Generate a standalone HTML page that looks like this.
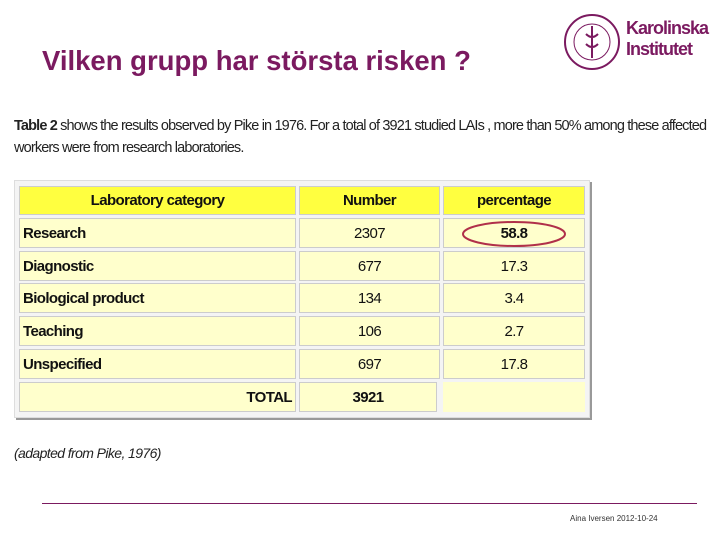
<!DOCTYPE html>
<html><head><meta charset="utf-8"><style>
body{margin:0;width:720px;height:540px;background:#fff;position:relative;overflow:hidden;font-family:"Liberation Sans",sans-serif}
.a{position:absolute}
.c{position:absolute;display:flex;align-items:center;font-size:15px;color:#111;letter-spacing:-0.6px;transform-origin:left center}
.hd{background:#ffff40;font-weight:bold;justify-content:center;border:1px solid #ccc;box-sizing:border-box}
.bd{background:#ffffcc;border:1px solid #ccc;box-sizing:border-box}
.n{justify-content:center}
.l{font-weight:bold;padding-left:3px}
</style></head><body>
<div class="a" style="left:42px;top:45px;font-size:27.5px;font-weight:bold;color:#7b1a60">Vilken grupp har största risken ?</div>
<div class="a" style="left:562px;top:12px;width:60px;height:60px">
<svg width="60" height="60"><circle cx="30" cy="30" r="27" fill="none" stroke="#7b1a60" stroke-width="2"/><circle cx="30" cy="30" r="18" fill="none" stroke="#7b1a60" stroke-width="1"/><path d="M30 14v32M24 22q6 6 12 0M24 32q6 6 12 0" stroke="#7b1a60" stroke-width="2" fill="none"/></svg></div>
<div class="a" style="left:626px;top:18px;font-size:18px;font-weight:bold;color:#7b1a60;line-height:21px;letter-spacing:-1px">Karolinska<br>Institutet</div>
<div class="a" style="left:14px;top:115px;font-size:14.5px;color:#222;line-height:22px;letter-spacing:-0.85px;width:720px"><b>Table 2</b> shows the results observed by Pike in 1976. For a total of 3921 studied LAIs , more than 50% among these affected<br>workers were from research laboratories.</div>
<div class="a" style="left:14px;top:180px;width:574px;height:236px;background:#f4f4f4;border:1px solid #ddd;box-shadow:2px 2px 0 #999"></div>
<div id="tbl"></div>
<svg class="a" style="left:460px;top:219px" width="110" height="30"><ellipse cx="54" cy="15" rx="51" ry="12" fill="none" stroke="#b0304a" stroke-width="2"/></svg>
<div class="a" style="left:14px;top:445px;font-size:14px;font-style:italic;color:#222;letter-spacing:-0.6px">(adapted from Pike, 1976)</div>
<div class="a" style="left:42px;top:503px;width:655px;height:1px;background:#7b1a60"></div>
<div class="a" style="left:570px;top:514px;font-size:8px;color:#333">Aina Iversen 2012-10-24</div>
<script>
const categories=["Research","Diagnostic","Biological product","Teaching","Unspecified"];
const numbers=["2307","677","134","106","697"];
const percentages=["58.8","17.3","3.4","2.7","17.8"];
const total="3921";
const cols=[[19,277],[299,141],[443,142]];
const tops=[218,251,283,316,349];
const t=document.getElementById('tbl');
function cell(x,w,y,h,txt,cls){const d=document.createElement('div');d.className='c '+cls;d.style.left=x+'px';d.style.top=y+'px';d.style.width=w+'px';d.style.height=h+'px';d.textContent=txt;t.appendChild(d);return d;}
const heads=["Laboratory category","Number","percentage"];
heads.forEach((h,i)=>{const d=cell(cols[i][0],cols[i][1],186,29,h,'hd');

});
categories.forEach((c,r)=>{const y=tops[r];
let d=cell(cols[0][0],cols[0][1],y,30,c,'bd l');


d=cell(cols[1][0],cols[1][1],y,30,numbers[r],'bd n');


d=cell(cols[2][0],cols[2][1],y,30,percentages[r],'bd n');
if(r===0)d.style.fontWeight='bold';

});
let d=cell(cols[0][0],cols[0][1],382,30,'TOTAL','bd');d.style.justifyContent='flex-end';d.style.fontWeight='bold';d.style.paddingRight='3px';


d=cell(cols[1][0],cols[1][1]-3,382,30,total,'bd n');d.style.fontWeight='bold';


d=cell(cols[2][0],cols[2][1],382,30,'','bd');d.style.border='none';


</script>
</body></html>
